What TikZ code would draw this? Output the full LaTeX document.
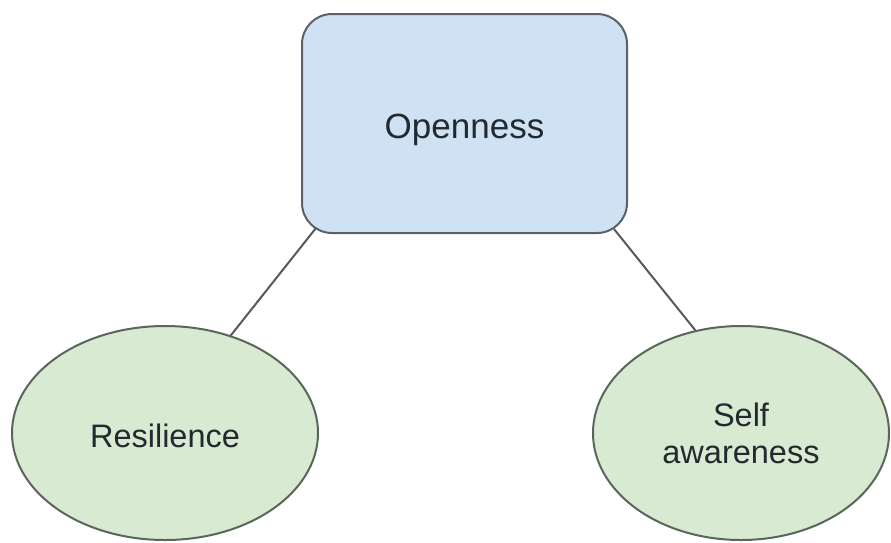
\documentclass[tikz,border=0pt]{standalone}
\usepackage{fontspec}
\setmainfont{Liberation Sans}
\usetikzlibrary{shapes.geometric,calc}
\definecolor{boxfill}{HTML}{CFE2F3}
\definecolor{boxline}{HTML}{59616B}
\definecolor{ellfill}{HTML}{D9EAD3}
\definecolor{ellline}{HTML}{5B665B}
\definecolor{linkcol}{HTML}{595959}
\definecolor{txtcol}{HTML}{222A30}
\tikzset{
  topbox/.style={draw=boxline, fill=boxfill, line width=2pt, rounded corners=30pt,
    minimum width=325pt, minimum height=219pt, inner sep=0pt, text=txtcol,
    font=\fontsize{35}{40}\selectfont},
  leaf/.style={ellipse, draw=ellline, fill=ellfill, line width=2pt, inner sep=0pt,
    minimum width=306pt, minimum height=214pt, text=txtcol, align=center,
    font=\fontsize{32.5}{37}\selectfont},
  link/.style={draw=linkcol, line width=2pt}
}
\begin{document}
\begin{tikzpicture}[x=1pt,y=-1pt]
\useasboundingbox (0,0) rectangle (891,542);
\node[topbox] (open) at (464.5,123.5) {\raisebox{-6pt}[\height][\depth]{Openness}};
\node[leaf] (res) at (165,433) {\raisebox{-3pt}[\height][\depth]{Resilience}};
\node[leaf, minimum width=296pt] (self) at (741,433) {Self\\awareness};
\draw[link] ($(open.south west)+(15,-6)$) -- (res.56);
\draw[link] ($(open.south east)+(-14,-5)$) -- (self.114);
\end{tikzpicture}
\end{document}
